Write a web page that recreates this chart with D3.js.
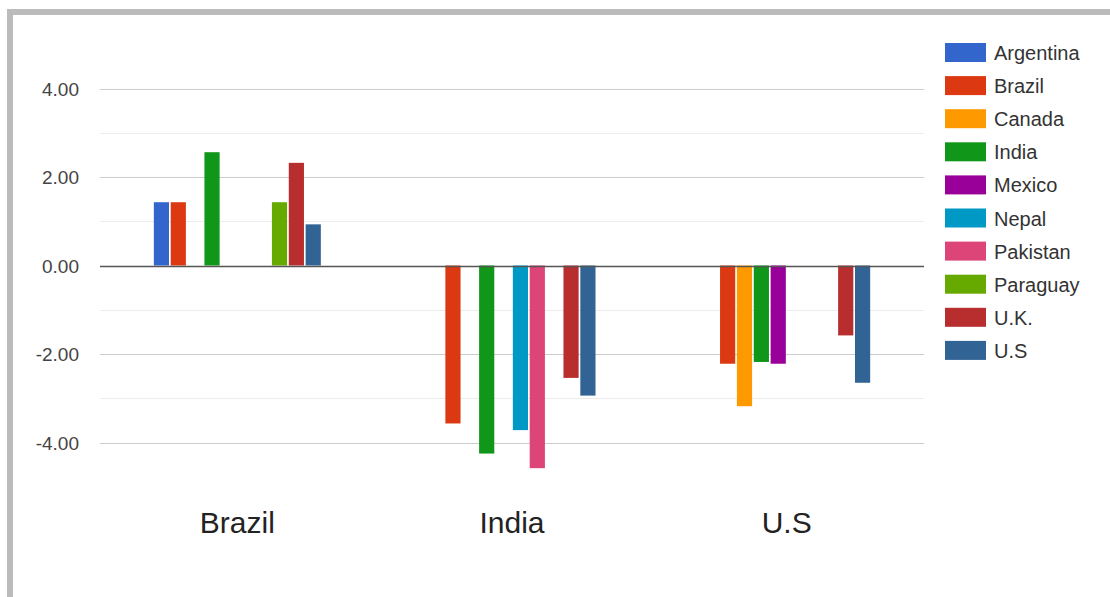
<!DOCTYPE html>
<html><head><meta charset="utf-8">
<script src="https://cdn.jsdelivr.net/npm/d3@7"></script>
<style>
html,body{margin:0;padding:0;background:#fff;}
svg{display:block;font-family:"Liberation Sans",Arial,sans-serif;}
</style></head>
<body>
<svg id="chart" width="1110" height="597"></svg>
<script>
const categories = ["Brazil", "India", "U.S"];
const seriesNames = ["Argentina","Brazil","Canada","India","Mexico","Nepal","Pakistan","Paraguay","U.K.","U.S"];
const seriesColors = ["#3366cc","#dc3912","#ff9900","#109618","#990099","#0099c6","#dd4477","#66aa00","#b82e2e","#316395"];
// values per series, one per category (null = no bar)
const argentina = [1.43, null, null];
const brazil    = [1.43, -3.57, -2.22];
const canada    = [null, null, -3.18];
const india     = [2.56, -4.25, -2.18];
const mexico    = [null, null, -2.22];
const nepal     = [null, -3.72, null];
const pakistan  = [null, -4.58, null];
const paraguay  = [1.43, null, null];
const uk        = [2.32, -2.54, -1.58];
const us        = [0.93, -2.94, -2.65];
const tickValues = [-4, -2, 0, 2, 4];
const minorTicks = [-3, -1, 1, 3];

const seriesValues = [argentina, brazil, canada, india, mexico, nepal, pakistan, paraguay, uk, us];

const svg = d3.select("#chart");

// frame
svg.append("rect").attr("x",7).attr("y",9).attr("width",1103).attr("height",6).attr("fill","#bbbbbb");
svg.append("rect").attr("x",7).attr("y",9).attr("width",6).attr("height",588).attr("fill","#bbbbbb");

const plotLeft = 100, plotRight = 924;
const y = d3.scaleLinear().domain([-5, 5]).range([265.5 + 5*44.25, 265.5 - 5*44.25]);
const x0 = d3.scaleBand().domain(categories).range([plotLeft, plotRight]).padding(0);
const groupW = 167;
const x1 = d3.scaleBand().domain(seriesNames).range([0, groupW]).paddingInner(0.1).paddingOuter(0);

// gridlines
svg.append("g").selectAll("line").data(minorTicks).join("line")
  .attr("x1",plotLeft).attr("x2",plotRight)
  .attr("y1",d=>Math.round(y(d))+0.5).attr("y2",d=>Math.round(y(d))+0.5)
  .attr("stroke","#ececec").attr("stroke-width",1);
svg.append("g").selectAll("line").data(tickValues.filter(d=>d!==0)).join("line")
  .attr("x1",plotLeft).attr("x2",plotRight)
  .attr("y1",d=>Math.round(y(d))+0.5).attr("y2",d=>Math.round(y(d))+0.5)
  .attr("stroke","#cccccc").attr("stroke-width",1);

// y axis labels
const fmt = d => d3.format(".2f")(d).replace("\u2212","-");
const yAxis = d3.axisLeft(y).tickValues(tickValues).tickFormat(fmt).tickSize(0).tickPadding(0);
const ya = svg.append("g").attr("transform",`translate(79,0)`).call(yAxis);
ya.select(".domain").remove();
ya.selectAll("text").attr("font-size","19px").attr("fill","#444").attr("font-family","Liberation Sans, Arial, sans-serif").attr("dy","0.35em");

// bars
const groups = svg.append("g").selectAll("g").data(categories).join("g")
  .attr("transform",d=>`translate(${x0(d) + x0.bandwidth()/2 - groupW/2},0)`);
groups.selectAll("rect").data((c,ci)=>seriesNames.map((s,si)=>({s, si, v: seriesValues[si][ci]})).filter(d=>d.v!==null))
  .join("rect")
  .attr("x",d=>x1(d.s))
  .attr("width",x1.bandwidth())
  .attr("y",d=>y(Math.max(0,d.v)))
  .attr("height",d=>Math.abs(y(d.v)-y(0)))
  .attr("fill",d=>seriesColors[d.si]);

// zero baseline
svg.append("line").attr("x1",plotLeft).attr("x2",plotRight)
  .attr("y1",Math.round(y(0))+0.5).attr("y2",Math.round(y(0))+0.5)
  .attr("stroke","#555").attr("stroke-width",1.3);

// category labels
const xAxis = d3.axisBottom(x0).tickSize(0).tickPadding(0);
const xa = svg.append("g").attr("transform","translate(0,533)").call(xAxis);
xa.select(".domain").remove();
xa.selectAll("text").attr("font-size","30px").attr("fill","#222").attr("dy","0").attr("y",0)
  .attr("font-family","Liberation Sans, Arial, sans-serif");

// legend
const legend = svg.append("g").selectAll("g").data(seriesNames).join("g")
  .attr("transform",(d,i)=>`translate(945,${43 + i*33.1})`);
legend.append("rect").attr("width",41).attr("height",19).attr("fill",(d,i)=>seriesColors[i]);
legend.append("text").attr("x",49).attr("y",17).attr("font-size","20px").attr("fill","#333").text(d=>d);
</script>
</body></html>
